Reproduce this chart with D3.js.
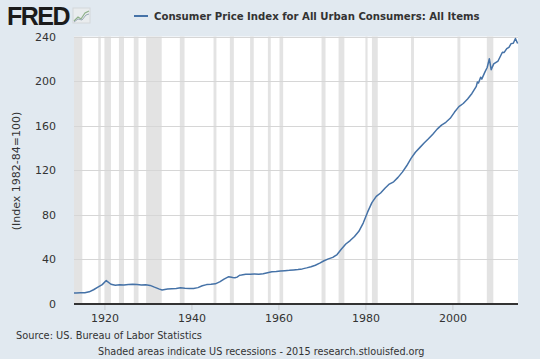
<!DOCTYPE html>
<meta charset="utf-8">
<head>
<script src="https://d3js.org/d3.v7.min.js"></script>
<style>
  body { margin: 0; background: #e1e9f0; }
  text { font-family: "DejaVu Sans", Verdana, sans-serif; }
</style>
</head>
<body>
<div id="chart"></div>
<script>
// CPI monthly-ish readings (index 1982-84=100)
var dates = ["1913-01","1913-07","1914-07","1915-07","1916-07","1917-07","1918-07","1919-07","1920-06","1921-07","1922-07","1923-07","1924-07","1925-07","1926-07","1927-07","1928-07","1929-07","1930-07","1931-07","1932-07","1933-04","1934-07","1935-07","1936-07","1937-07","1938-07","1939-07","1940-07","1941-07","1942-07","1943-07","1944-07","1945-07","1946-07","1947-07","1948-08","1949-07","1950-01","1950-07","1951-02","1951-07","1952-07","1953-07","1954-07","1955-07","1956-07","1957-07","1958-07","1959-07","1960-07","1961-07","1962-07","1963-07","1964-07","1965-07","1966-07","1967-07","1968-07","1969-07","1970-07","1971-07","1972-07","1973-07","1974-07","1975-07","1976-07","1977-07","1978-07","1979-07","1980-07","1981-07","1982-07","1983-07","1984-07","1985-07","1986-07","1987-07","1988-07","1989-07","1990-07","1991-07","1992-07","1993-07","1994-07","1995-07","1996-07","1997-07","1998-07","1999-07","2000-07","2001-07","2002-07","2003-07","2004-07","2005-07","2005-10","2006-01","2006-07","2006-10","2007-07","2008-01","2008-07","2008-12","2009-07","2010-07","2011-07","2011-12","2012-07","2013-01","2013-07","2014-01","2014-07","2015-01"];
var values = [9.8,9.9,10.0,10.1,10.9,12.8,15.1,17.4,21.0,17.7,16.8,17.2,17.1,17.5,17.7,17.4,17.1,17.3,16.7,15.1,13.6,12.6,13.4,13.7,13.9,14.5,14.1,13.9,14.0,14.7,16.4,17.4,17.7,18.1,19.8,22.3,24.5,23.7,23.5,24.1,25.8,26.0,26.6,26.8,26.9,26.8,27.2,28.1,28.9,29.1,29.6,29.9,30.2,30.6,31.0,31.5,32.4,33.4,34.8,36.7,38.8,40.5,41.8,44.4,49.3,53.8,56.9,60.6,65.2,72.6,82.4,90.9,96.5,99.6,103.9,107.6,109.6,113.6,118.3,124.0,130.7,136.2,140.3,144.5,148.2,152.4,156.9,160.5,163.0,166.6,172.2,177.1,179.9,184.0,188.9,195.3,199.2,198.3,203.5,201.8,208.3,212.2,220.0,210.2,215.4,218.0,225.9,225.7,229.1,230.3,233.6,233.9,238.2,233.7];

// NBER recessions: start/end pairs
var recStart = ["1913-01","1918-08","1920-01","1923-05","1926-10","1929-08","1937-05","1945-02","1948-11","1953-07","1957-08","1960-04","1969-12","1973-11","1980-01","1981-07","1990-07","2001-03","2007-12"];
var recEnd   = ["1914-12","1919-03","1921-07","1924-07","1927-11","1933-03","1938-06","1945-10","1949-10","1954-05","1958-04","1961-02","1970-11","1975-03","1980-07","1982-11","1991-03","2001-11","2009-06"];

var yTicks = [0, 40, 80, 120, 160, 200, 240];
var xTicks = [1920, 1940, 1960, 1980, 2000];

var title = "Consumer Price Index for All Urban Consumers: All Items";
var yLabel = "(Index 1982-84=100)";
var source = "Source: US. Bureau of Labor Statistics";
var note = "Shaded areas indicate US recessions - 2015 research.stlouisfed.org";

var width = 540, height = 359;
var margin = { top: 36.5, right: 22, bottom: 55, left: 74 };

var parse = d3.timeParse("%Y-%m");
var data = dates.map(function(d, i) { return { date: parse(d), value: values[i] }; });

var svg = d3.select("#chart").append("svg")
    .attr("width", width)
    .attr("height", height);

svg.append("rect").attr("width", width).attr("height", height).attr("fill", "#e1e9f0");

var x = d3.scaleTime()
    .domain([parse("1913-01"), parse("2015-02")])
    .range([margin.left, width - margin.right]);
var y = d3.scaleLinear()
    .domain([0, 240])
    .range([height - margin.bottom, margin.top]);

// plot background
svg.append("rect")
    .attr("x", margin.left).attr("y", margin.top)
    .attr("width", width - margin.left - margin.right)
    .attr("height", height - margin.top - margin.bottom)
    .attr("fill", "white");

// recession bars
svg.append("g").selectAll("rect")
    .data(recStart)
    .enter().append("rect")
    .attr("x", function(d) { return x(parse(d)); })
    .attr("y", margin.top)
    .attr("width", function(d, i) { return Math.max(1, x(parse(recEnd[i])) - x(parse(d))); })
    .attr("height", height - margin.top - margin.bottom)
    .attr("fill", "#e3e3e3");

// horizontal grid
svg.append("g").selectAll("line")
    .data(yTicks.slice(1))
    .enter().append("line")
    .attr("x1", margin.left).attr("x2", width - margin.right)
    .attr("y1", function(d) { return Math.round(y(d)) + 0.5; })
    .attr("y2", function(d) { return Math.round(y(d)) + 0.5; })
    .attr("stroke", "#d6d6d6")
    .attr("stroke-width", 1);

// y axis labels
var yAxis = d3.axisLeft(y).tickValues(yTicks).tickSize(0).tickPadding(18);
svg.append("g")
    .attr("transform", "translate(" + margin.left + ",0)")
    .call(yAxis)
    .call(function(g) { g.select(".domain").remove(); })
    .selectAll("text")
    .attr("font-size", 11)
    .attr("fill", "#333")
    .style("font-family", "'DejaVu Sans', Verdana, sans-serif");

// x axis
var xAxis = d3.axisBottom(x)
    .tickValues(xTicks.map(function(t) { return new Date(t, 0, 1); }))
    .tickFormat(d3.timeFormat("%Y"))
    .tickSize(6)
    .tickPadding(4);
var gx = svg.append("g")
    .attr("transform", "translate(0," + (height - margin.bottom) + ")")
    .call(xAxis);
gx.select(".domain").remove();
gx.selectAll("line").attr("stroke", "#c8ccd0");
gx.selectAll("text")
    .attr("font-size", 11)
    .attr("fill", "#333")
    .style("font-family", "'DejaVu Sans', Verdana, sans-serif");
svg.append("line")
    .attr("x1", margin.left).attr("x2", width - margin.right)
    .attr("y1", height - margin.bottom).attr("y2", height - margin.bottom)
    .attr("stroke", "#333").attr("stroke-width", 2);

// series line
var line = d3.line()
    .x(function(d) { return x(d.date); })
    .y(function(d) { return y(d.value); });
svg.append("path")
    .datum(data)
    .attr("d", line)
    .attr("fill", "none")
    .attr("stroke", "#4572a7")
    .attr("stroke-width", 1.5)
    .attr("stroke-linejoin", "round");

// y label
svg.append("text")
    .attr("transform", "translate(20," + 171 + ") rotate(-90)")
    .attr("text-anchor", "middle")
    .attr("font-size", 11)
    .attr("fill", "#333")
    .text(yLabel);

// title with legend swatch
svg.append("line")
    .attr("x1", 134).attr("x2", 148).attr("y1", 16).attr("y2", 16)
    .attr("stroke", "#4572a7").attr("stroke-width", 2);
svg.append("text")
    .attr("x", 154).attr("y", 20)
    .attr("font-size", 10.15)
    .attr("font-weight", "bold")
    .attr("fill", "#333")
    .text(title);

// FRED logo
svg.append("text")
    .attr("x", 7).attr("y", 25)
    .attr("font-size", 25)
    .attr("font-weight", "bold")
    .attr("letter-spacing", -1.5)
    .style("font-family", "'Liberation Sans', Arial, sans-serif")
    .attr("fill", "#1b1b1b")
    .text("FRED");
var logo = svg.append("g").attr("transform", "translate(73,8)");
logo.append("rect").attr("width", 17).attr("height", 15).attr("fill", "#e9ecee").attr("stroke", "#d4d8da");
logo.append("polyline")
    .attr("points", "1,13 5,9 8,11 12,5 16,3")
    .attr("fill", "none").attr("stroke", "#8fb08a").attr("stroke-width", 1.2);
logo.append("polyline")
    .attr("points", "1,14 5,11 9,12 13,7 16,6")
    .attr("fill", "none").attr("stroke", "#9aa9b6").attr("stroke-width", 1);

// footer
svg.append("text")
    .attr("x", 16).attr("y", 339)
    .attr("font-size", 9.8)
    .attr("fill", "#333")
    .text(source);
svg.append("text")
    .attr("x", 98).attr("y", 355)
    .attr("font-size", 9.7)
    .attr("fill", "#333")
    .text(note);
</script>
</body>
</html>
